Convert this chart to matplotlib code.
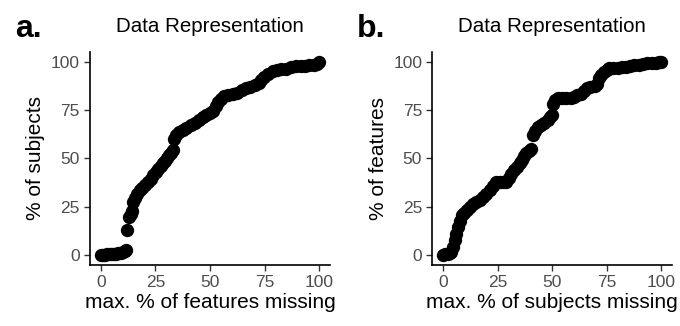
import matplotlib
matplotlib.use('Agg')
import matplotlib.pyplot as plt

plt.rcParams['font.family'] = ['Liberation Sans', 'DejaVu Sans']

# panel a: cumulative % of subjects vs max % of features missing
a_x = [0, 1, 2, 3, 4, 5, 6, 7, 8, 9, 10, 11, 11.6,
       12,
       13.0, 13.6, 14.2,
       14.6, 15.5, 16.5, 17.7, 19, 20.3, 21.5, 22.8, 24, 25.3, 26.3, 27.3, 28.3,
       29.3, 30.3, 31.4, 32.2, 32.9,
       33.3, 34.5, 35.9, 37.5, 39.2, 41.2, 43, 45, 46.6, 48.2, 49.8, 51.3,
       52.5, 53.8, 55, 56.3, 58, 60.4, 62.5, 64.5, 66.5, 68.5, 70.5, 72.6,
       73.5, 74.9, 76.5, 78.7, 80.5, 82.5, 84.8, 87, 89.4, 91.5, 93.5, 95.5,
       97.5, 99.2, 100]
a_y = [0, 0.2, 0.4, 0.5, 0.6, 0.7, 0.8, 0.9, 1.0, 1.3, 1.7, 2.2, 2.6,
       12.9,
       19.8, 21.5, 23,
       27.6, 29.5, 31.5, 33.6, 35, 36.5, 37.9, 39.6, 41.3, 43, 44.5, 46, 47.4,
       48.8, 50.3, 51.7, 53, 54.3,
       60, 62, 63.7, 64.8, 65.8, 67.2, 68.4, 69.7, 71.5, 72.6, 73.5, 74.5,
       77, 79, 80.8, 82, 82.6, 83.3, 84, 85.2, 86.1, 87, 87.8, 88.7,
       90.5, 92.1, 93.5, 95.3, 95.8, 96.1, 96.4, 97, 97.5, 97.8, 97.9, 98.0,
       98.2, 98.5, 100]

# panel b: cumulative % of features vs max % of subjects missing
b_x = [0, 1, 2, 3, 3.8, 4.5, 5.3, 6, 6.8, 7.6, 8.4, 9.5, 10.8, 12.2, 13.7,
       15.2, 16.8, 18.2, 19.8, 21.3, 22.8, 24.4, 26, 27.5, 28.9, 30, 31.2,
       32.4, 33.7, 35, 36, 37, 38.1, 39.2, 40.4,
       41.1, 42.2, 43.4, 44.8, 46.3, 47.9, 49, 49.7,
       50.5, 51.1, 52.5, 54.5, 56.5, 58.5, 60, 61.5, 63, 64.5, 66, 67.5, 69.5,
       70.5, 71.3, 72.3, 73.5, 75, 76.1, 78, 80, 82, 83.7, 85.5, 87.5, 89.8,
       91.5, 93.5, 95.5, 97.5, 99, 100]
b_y = [0, 0.5, 0.7, 1.0, 1.7, 4.5, 7.8, 11, 14.6, 17.5, 20.7, 22, 23.5, 25, 26.5,
       27.5, 28.4, 30, 31.9, 33.8, 35.8, 37.9, 38, 38, 38, 40, 42.2,
       44, 45.6, 47.4, 49.2, 51, 52.6, 53.8, 55.1,
       62, 64, 66.3, 67.2, 68.5, 69.8, 71.2, 72.6,
       78, 80.1, 81, 81, 81, 81, 81.5, 82.5, 83.5, 85, 86.5, 87, 87.5,
       88.5, 91.5, 93, 94.5, 95.8, 96.5, 96.7, 96.9, 97, 97.3, 97.6, 98, 98.3,
       98.5, 99, 99.2, 99.4, 99.5, 100]

ticks = [0, 25, 50, 75, 100]
panels = [
    ('a.', a_x, a_y, 'max. % of features missing', '% of subjects', 0.1324, 0.022),
    ('b.', b_x, b_y, 'max. % of subjects missing', '% of features', 0.6357, 0.525),
]

fig = plt.figure(figsize=(6.8, 3.26), dpi=100)

for letter, xs, ys, xlab, ylab, left, letter_x in panels:
    ax = fig.add_axes([left, 0.187, 0.353, 0.654])
    ax.plot(xs, ys, 'o', color='black', markersize=9.6, markeredgewidth=0)
    ax.set_xlim(-5, 105)
    ax.set_ylim(-5, 105)
    ax.set_xticks(ticks)
    ax.set_yticks(ticks)
    ax.tick_params(colors='#333333', labelcolor='#4d4d4d', labelsize=12.5,
                   length=4.3, width=1.0, pad=3)
    for side in ['top', 'right']:
        ax.spines[side].set_visible(False)
    for side in ['left', 'bottom']:
        ax.spines[side].set_linewidth(1.2)
        ax.spines[side].set_color('black')
    ax.set_xlabel(xlab, fontsize=15, labelpad=2)
    ax.set_ylabel(ylab, fontsize=15, labelpad=4)
    ax.set_title('Data Representation', fontsize=14.8, pad=14)
    fig.text(letter_x, 1 - 37 / 326, letter, fontsize=23, fontweight='bold',
             va='baseline', ha='left')

fig.savefig('out.png', dpi=100)
